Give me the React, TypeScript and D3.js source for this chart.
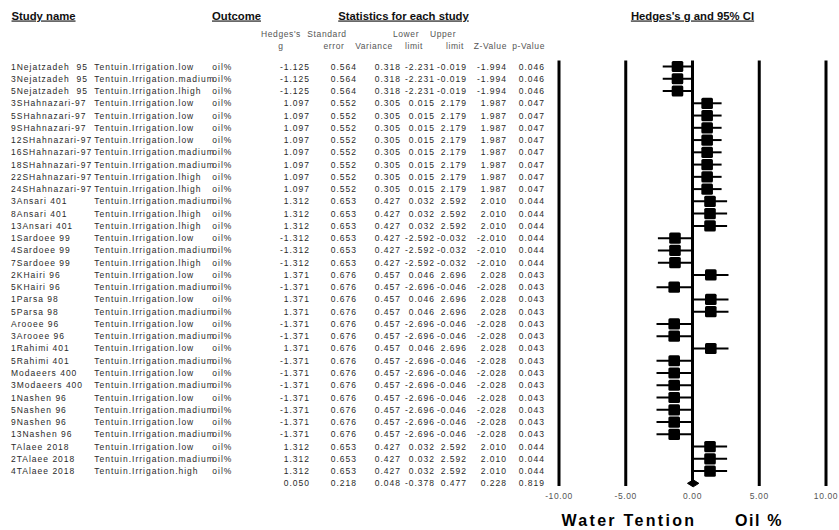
import React from "react";
import * as d3 from "d3";

// study rows, top to bottom
const studyNames = [
  "1Nejatzadeh\u00a0 95", "3Nejatzadeh\u00a0 95", "5Nejatzadeh\u00a0 95",
  "3SHahnazari-97", "5SHahnazari-97", "9SHahnazari-97", "12SHahnazari-97",
  "16SHahnazari-97", "18SHahnazari-97", "22SHahnazari-97", "24SHahnazari-97",
  "3Ansari 401", "8Ansari 401", "13Ansari 401",
  "1Sardoee 99", "4Sardoee 99", "7Sardoee 99",
  "2KHairi 96", "5KHairi 96", "1Parsa 98", "5Parsa 98",
  "Arooee 96", "3Arooee 96", "1Rahimi 401", "5Rahimi 401",
  "Modaeers 400", "3Modaeers 400",
  "1Nashen 96", "5Nashen 96", "9Nashen 96", "13Nashen 96",
  "TAlaee 2018", "2TAlaee 2018", "4TAlaee 2018",
];
const outcomes = [
  "Tentuin.Irrigation.low", "Tentuin.Irrigation.madium", "Tentuin.Irrigation.lhigh",
  "Tentuin.Irrigation.low", "Tentuin.Irrigation.low", "Tentuin.Irrigation.low", "Tentuin.Irrigation.low",
  "Tentuin.Irrigation.madium", "Tentuin.Irrigation.madium", "Tentuin.Irrigation.lhigh", "Tentuin.Irrigation.lhigh",
  "Tentuin.Irrigation.madium", "Tentuin.Irrigation.lhigh", "Tentuin.Irrigation.lhigh",
  "Tentuin.Irrigation.low", "Tentuin.Irrigation.madium", "Tentuin.Irrigation.lhigh",
  "Tentuin.Irrigation.low", "Tentuin.Irrigation.madium", "Tentuin.Irrigation.low", "Tentuin.Irrigation.madium",
  "Tentuin.Irrigation.low", "Tentuin.Irrigation.madium", "Tentuin.Irrigation.low", "Tentuin.Irrigation.madium",
  "Tentuin.Irrigation.low", "Tentuin.Irrigation.madium",
  "Tentuin.Irrigation.low", "Tentuin.Irrigation.madium", "Tentuin.Irrigation.low", "Tentuin.Irrigation.madium",
  "Tentuin.Irrigation.low", "Tentuin.Irrigation.madium", "Tentuin.Irrigation.high",
];
const hedgesG = [
  -1.125, -1.125, -1.125,
  1.097, 1.097, 1.097, 1.097, 1.097, 1.097, 1.097, 1.097,
  1.312, 1.312, 1.312,
  -1.312, -1.312, -1.312,
  1.371, -1.371, 1.371, 1.371, -1.371, -1.371, 1.371, -1.371,
  -1.371, -1.371, -1.371, -1.371, -1.371, -1.371,
  1.312, 1.312, 1.312,
];
const stdError = [
  0.564, 0.564, 0.564,
  0.552, 0.552, 0.552, 0.552, 0.552, 0.552, 0.552, 0.552,
  0.653, 0.653, 0.653, 0.653, 0.653, 0.653,
  0.676, 0.676, 0.676, 0.676, 0.676, 0.676, 0.676, 0.676,
  0.676, 0.676, 0.676, 0.676, 0.676, 0.676,
  0.653, 0.653, 0.653,
];
const variance = [
  0.318, 0.318, 0.318,
  0.305, 0.305, 0.305, 0.305, 0.305, 0.305, 0.305, 0.305,
  0.427, 0.427, 0.427, 0.427, 0.427, 0.427,
  0.457, 0.457, 0.457, 0.457, 0.457, 0.457, 0.457, 0.457,
  0.457, 0.457, 0.457, 0.457, 0.457, 0.457,
  0.427, 0.427, 0.427,
];
const lowerLimit = [
  -2.231, -2.231, -2.231,
  0.015, 0.015, 0.015, 0.015, 0.015, 0.015, 0.015, 0.015,
  0.032, 0.032, 0.032,
  -2.592, -2.592, -2.592,
  0.046, -2.696, 0.046, 0.046, -2.696, -2.696, 0.046, -2.696,
  -2.696, -2.696, -2.696, -2.696, -2.696, -2.696,
  0.032, 0.032, 0.032,
];
const upperLimit = [
  -0.019, -0.019, -0.019,
  2.179, 2.179, 2.179, 2.179, 2.179, 2.179, 2.179, 2.179,
  2.592, 2.592, 2.592,
  -0.032, -0.032, -0.032,
  2.696, -0.046, 2.696, 2.696, -0.046, -0.046, 2.696, -0.046,
  -0.046, -0.046, -0.046, -0.046, -0.046, -0.046,
  2.592, 2.592, 2.592,
];
const zValue = [
  -1.994, -1.994, -1.994,
  1.987, 1.987, 1.987, 1.987, 1.987, 1.987, 1.987, 1.987,
  2.010, 2.010, 2.010,
  -2.010, -2.010, -2.010,
  2.028, -2.028, 2.028, 2.028, -2.028, -2.028, 2.028, -2.028,
  -2.028, -2.028, -2.028, -2.028, -2.028, -2.028,
  2.010, 2.010, 2.010,
];
const pValue = [
  0.046, 0.046, 0.046,
  0.047, 0.047, 0.047, 0.047, 0.047, 0.047, 0.047, 0.047,
  0.044, 0.044, 0.044, 0.044, 0.044, 0.044,
  0.043, 0.043, 0.043, 0.043, 0.043, 0.043, 0.043, 0.043,
  0.043, 0.043, 0.043, 0.043, 0.043, 0.043,
  0.044, 0.044, 0.044,
];
// pooled result (last line)
const summary = [0.05, 0.218, 0.048, -0.378, 0.477, 0.228, 0.819];
const axisTicks = [-10, -5, 0, 5, 10];

const FONT = "'Liberation Sans', Arial, sans-serif";
const loc = d3.formatLocale({ decimal: ".", thousands: ",", grouping: [3], currency: ["", ""], minus: "-" });
const f3 = loc.format(".3f");
const f2 = loc.format(".2f");

export default function App() {
  const n = studyNames.length;
  const x = d3.scaleLinear().domain([-10, 10]).range([559, 826]);
  const rowY = d3.scaleLinear().domain([0, n]).range([66.5, 66.5 + n * 12.26]);

  // right edges of the stats columns
  const colRight = [310, 357, 401, 435, 467, 507, 545];
  const rows = d3.range(n).map((i) => [
    hedgesG[i], stdError[i], variance[i], lowerLimit[i], upperLimit[i], zValue[i], pValue[i],
  ]);

  const body = { fontFamily: FONT, fontSize: 8.5, letterSpacing: 1, fill: "#2a2a2a" } as const;
  const sub = { fontFamily: FONT, fontSize: 8.5, letterSpacing: 0.6, fill: "#555" } as const;
  const head = { fontFamily: FONT, fontSize: 11.3, fontWeight: 700, fill: "#111", textDecoration: "underline" } as const;

  const top = 60.5, bottom = 486;
  const sy = rowY(n);
  const diamond = d3.line()([
    [x(summary[3]), sy], [x(summary[0]), sy - 3.5], [x(summary[4]), sy], [x(summary[0]), sy + 3.5],
  ]) + "Z";

  return (
    <svg width={839} height={530} style={{ position: "absolute", left: 0, top: 0, background: "#fff" }}>
      <text x={11.5} y={19.5} style={head}>Study name</text>
      <text x={212} y={19.5} style={head}>Outcome</text>
      <text x={403.5} y={19.5} textAnchor="middle" style={head}>Statistics for each study</text>
      <text x={692.5} y={19.5} textAnchor="middle" style={head}>Hedges's g and 95% CI</text>

      <g style={sub} textAnchor="middle">
        <text x={281} y={37}>Hedges's</text>
        <text x={327} y={37}>Standard</text>
        <text x={406} y={37}>Lower</text>
        <text x={443} y={37}>Upper</text>
        <text x={281} y={48.5}>g</text>
        <text x={334} y={48.5}>error</text>
        <text x={374} y={48.5}>Variance</text>
        <text x={414} y={48.5}>limit</text>
        <text x={455} y={48.5}>limit</text>
        <text x={507} y={48.5} textAnchor="end">Z-Value</text>
        <text x={545} y={48.5} textAnchor="end">p-Value</text>
      </g>

      <g style={body}>
        {studyNames.map((s, i) => (
          <g key={i}>
            <text x={11} y={rowY(i) + 3}>{s}</text>
            <text x={94.3} y={rowY(i) + 3}>{outcomes[i]}</text>
            <text x={212.3} y={rowY(i) + 3}>oil%</text>
          </g>
        ))}
        {rows.concat([summary]).map((r, i) =>
          r.map((v, j) => (
            <text key={i + "-" + j} x={colRight[j]} y={rowY(i) + 3} textAnchor="end">{f3(v)}</text>
          ))
        )}
      </g>

      {axisTicks.map((t) => (
        <g key={t}>
          <line x1={x(t)} x2={x(t)} y1={top} y2={bottom} stroke="#000" strokeWidth={3} />
          <text x={x(t)} y={498.5} textAnchor="middle" style={sub}>{f2(t)}</text>
        </g>
      ))}

      {hedgesG.map((g, i) => (
        <g key={i}>
          <line x1={x(lowerLimit[i])} x2={x(upperLimit[i])} y1={rowY(i)} y2={rowY(i)} stroke="#000" strokeWidth={2} />
          <rect x={x(g) - 5.8} y={rowY(i) - 5.6} width={11.6} height={11.2} rx={1.5} fill="#000" />
        </g>
      ))}
      <path d={diamond} fill="#000" stroke="#000" strokeWidth={1} />

      <text x={561.5} y={526} style={{ fontFamily: FONT, fontSize: 16, fontWeight: 700, letterSpacing: 2.3, fill: "#000" }}>
        Water Tention
      </text>
      <text x={735} y={526} style={{ fontFamily: FONT, fontSize: 16, fontWeight: 700, letterSpacing: 1.6, fill: "#000" }}>
        Oil %
      </text>
    </svg>
  );
}
